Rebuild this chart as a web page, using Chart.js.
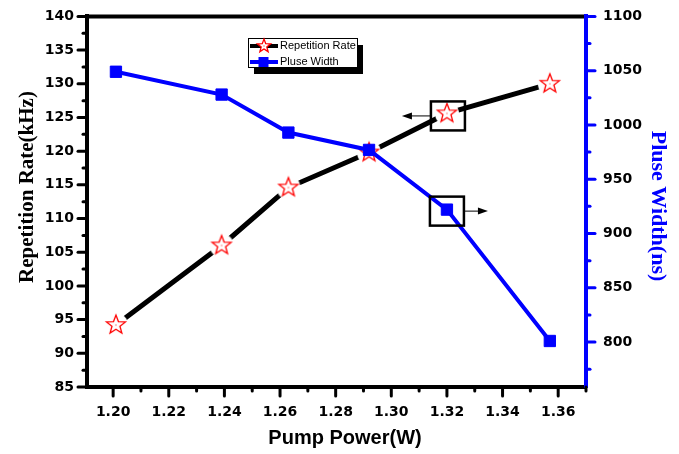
<!DOCTYPE html>
<html>
<head>
<meta charset="utf-8">
<script src="https://cdn.jsdelivr.net/npm/chart.js@4.4.0/dist/chart.umd.min.js"></script>
<style>
  html, body { margin: 0; padding: 0; background: #fff; }
  #one_chart { display: block; }
</style>
</head>
<body>
<canvas id="one_chart" width="679" height="454"></canvas>
<script>
// Data
const pumpPower = [1.201, 1.239, 1.263, 1.292, 1.320, 1.357];
const repRate = [94.2, 106.0, 114.6, 119.8, 125.6, 130.0];
const pulseWidth = [1049, 1028, 993, 977, 922, 801];

// Tick values
const xTicks = [1.20, 1.22, 1.24, 1.26, 1.28, 1.30, 1.32, 1.34, 1.36];
const xMinor = [1.21, 1.23, 1.25, 1.27, 1.29, 1.31, 1.33, 1.35, 1.37];
const rateTicks = [85, 90, 95, 100, 105, 110, 115, 120, 125, 130, 135, 140];
const rateMinor = [87.5, 92.5, 97.5, 102.5, 107.5, 112.5, 117.5, 122.5, 127.5, 132.5, 137.5];
const widthTicks = [800, 850, 900, 950, 1000, 1050, 1100];
const widthMinor = [775, 825, 875, 925, 975, 1025, 1075];

// the point that has a box and arrow on it
const markedPoint = 4;

const BLUE = "#0000ff";

// Open red star with a white halo so the line stops short of it
function makeStar(outer, halo) {
  const size = Math.ceil(Math.max(outer, halo) * 2 + 4);
  const c = document.createElement("canvas");
  c.width = c.height = size;
  const g = c.getContext("2d");
  const cx = size / 2, cy = size / 2;
  if (halo) {
    g.fillStyle = "#fff";
    g.beginPath();
    g.arc(cx, cy, halo, 0, Math.PI * 2);
    g.fill();
  }
  g.beginPath();
  for (let i = 0; i < 10; i++) {
    const r = i % 2 ? outer * 0.42 : outer;
    const a = -Math.PI / 2 + (i * Math.PI) / 5;
    g.lineTo(cx + r * Math.cos(a), cy + r * Math.sin(a));
  }
  g.closePath();
  g.fillStyle = "#fff";
  g.fill();
  g.strokeStyle = "#ff0000";
  g.lineWidth = 1.3;
  g.stroke();
  g.fillStyle = "#ff0000";
  g.fillRect(cx - 0.5, cy - 0.5, 1, 1);
  return c;
}

const starPoint = makeStar(10, 12);
const legendStar = makeStar(7, 0);

function arrow(ctx, x1, x2, y) {
  const dir = x2 > x1 ? 1 : -1;
  ctx.beginPath();
  ctx.moveTo(x1, y);
  ctx.lineTo(x2 - dir * 8, y);
  ctx.stroke();
  ctx.beginPath();
  ctx.moveTo(x2, y);
  ctx.lineTo(x2 - dir * 10, y - 3.5);
  ctx.lineTo(x2 - dir * 10, y + 3.5);
  ctx.closePath();
  ctx.fill();
}

function tickMarks(ctx, scale, values, len, side) {
  const area = scale.chart.chartArea;
  values.forEach((v) => {
    const p = scale.getPixelForValue(v);
    ctx.beginPath();
    if (side === "left") { ctx.moveTo(area.left, p); ctx.lineTo(area.left - len, p); }
    if (side === "right") { ctx.moveTo(area.right, p); ctx.lineTo(area.right + len, p); }
    if (side === "bottom") { ctx.moveTo(p, area.bottom); ctx.lineTo(p, area.bottom + len); }
    ctx.stroke();
  });
}

const decorations = {
  id: "decorations",
  afterDraw(chart) {
    const ctx = chart.ctx;
    const area = chart.chartArea;
    const sx = chart.scales.x, sy = chart.scales.y, sy1 = chart.scales.y1;
    ctx.save();

    // top frame line
    ctx.strokeStyle = "#000";
    ctx.lineWidth = 4;
    ctx.beginPath();
    ctx.moveTo(area.left - 2, area.top);
    ctx.lineTo(area.right - 2, area.top);
    ctx.stroke();

    // tick marks, major and minor, with round ends
    ctx.lineCap = "round";
    ctx.lineWidth = 3;
    ctx.strokeStyle = "#000";
    tickMarks(ctx, sy, rateTicks, 9, "left");
    tickMarks(ctx, sy, rateMinor, 4, "left");
    tickMarks(ctx, sx, xTicks, 9, "bottom");
    tickMarks(ctx, sx, xMinor, 4, "bottom");
    ctx.strokeStyle = BLUE;
    tickMarks(ctx, sy1, widthTicks, 9, "right");
    tickMarks(ctx, sy1, widthMinor, 4, "right");
    ctx.lineCap = "butt";

    // boxes and arrows on the marked points
    const px = sx.getPixelForValue(pumpPower[markedPoint]);
    const pyRate = sy.getPixelForValue(repRate[markedPoint]);
    const pyWidth = sy1.getPixelForValue(pulseWidth[markedPoint]);
    ctx.strokeStyle = "#000";
    ctx.fillStyle = "#000";
    ctx.lineWidth = 2.5;
    ctx.strokeRect(px - 16, pyRate - 12, 34, 29);
    ctx.strokeRect(px - 17, pyWidth - 13, 34, 29);
    ctx.lineWidth = 1;
    arrow(ctx, px - 16, px - 45, pyRate + 2.5);
    arrow(ctx, px + 17, px + 41, pyWidth + 1.5);

    // legend with drop shadow
    ctx.fillStyle = "#000";
    ctx.fillRect(254, 45, 109, 29);
    ctx.fillStyle = "#fff";
    ctx.fillRect(248.5, 38.5, 109, 29);
    ctx.lineWidth = 1;
    ctx.strokeRect(248.5, 38.5, 109, 29);
    ctx.lineWidth = 4;
    ctx.strokeStyle = "#000";
    ctx.beginPath(); ctx.moveTo(250, 46); ctx.lineTo(278, 46); ctx.stroke();
    ctx.drawImage(legendStar, 264 - legendStar.width / 2, 46 - legendStar.height / 2);
    ctx.strokeStyle = BLUE;
    ctx.beginPath(); ctx.moveTo(250, 62); ctx.lineTo(278, 62); ctx.stroke();
    ctx.fillStyle = BLUE;
    ctx.fillRect(258.5, 57, 10, 10);
    ctx.fillStyle = "#000";
    ctx.font = "11px 'Liberation Sans', Arial, sans-serif";
    ctx.textBaseline = "middle";
    ctx.textAlign = "left";
    ctx.fillText("Repetition Rate", 280, 46);
    ctx.fillText("Pluse Width", 280, 62);

    // axis titles
    ctx.textAlign = "center";
    ctx.font = "bold 20px 'Liberation Sans', Arial, sans-serif";
    ctx.fillText("Pump Power(W)", 345, 438);

    ctx.save();
    ctx.translate(28, 187);
    ctx.rotate(-Math.PI / 2);
    ctx.font = "bold 21px 'Liberation Serif', 'Times New Roman', serif";
    ctx.fillText("Repetition Rate(kHz)", 0, 0);
    ctx.restore();

    ctx.save();
    ctx.translate(658, 206);
    ctx.rotate(Math.PI / 2);
    ctx.fillStyle = BLUE;
    ctx.font = "bold 22px 'Liberation Serif', 'Times New Roman', serif";
    ctx.fillText("Pluse Width(ns)", 0, 0);
    ctx.restore();

    ctx.restore();
  },
};

const tickFont = { family: "'DejaVu Sans', sans-serif", size: 14, weight: "bold" };
const hiddenTicks = {
  display: true,
  drawOnChartArea: false,
  drawTicks: true,
  tickLength: 9,
  tickColor: "rgba(0,0,0,0)",
};

const config = {
  type: "line",
  data: {
    datasets: [
      {
        label: "Repetition Rate",
        data: pumpPower.map((x, i) => ({ x: x, y: repRate[i] })),
        yAxisID: "y",
        order: 1,
        borderColor: "#000",
        borderWidth: 5,
        tension: 0,
        pointStyle: starPoint,
        pointRadius: 10,
      },
      {
        label: "Pluse Width",
        data: pumpPower.map((x, i) => ({ x: x, y: pulseWidth[i] })),
        yAxisID: "y1",
        order: 0,
        borderColor: BLUE,
        borderWidth: 4,
        tension: 0,
        pointStyle: "rect",
        pointRadius: 8,
        pointBackgroundColor: BLUE,
        pointBorderColor: BLUE,
        pointBorderWidth: 1,
      },
    ],
  },
  options: {
    responsive: false,
    animation: false,
    devicePixelRatio: 1,
    layout: { padding: { top: 16, left: 0, right: 0, bottom: 0 } },
    plugins: {
      legend: { display: false },
      tooltip: { enabled: false },
    },
    scales: {
      x: {
        type: "linear",
        position: "bottom",
        min: 1.1906,
        max: 1.370,
        afterBuildTicks: (scale) => { scale.ticks = xTicks.map((v) => ({ value: v })); },
        afterFit: (scale) => { scale.height = 67; },
        grid: hiddenTicks,
        border: { display: true, color: "#000", width: 4 },
        ticks: {
          color: "#000",
          font: tickFont,
          padding: 8,
          autoSkip: false,
          maxRotation: 0,
          callback: (v) => v.toFixed(2),
        },
      },
      y: {
        type: "linear",
        position: "left",
        min: 85,
        max: 140,
        afterBuildTicks: (scale) => { scale.ticks = rateTicks.map((v) => ({ value: v })); },
        afterFit: (scale) => { scale.width = 87; },
        grid: hiddenTicks,
        border: { display: true, color: "#000", width: 4 },
        ticks: { color: "#000", font: tickFont, padding: 4, autoSkip: false, callback: (v) => String(v) },
      },
      y1: {
        type: "linear",
        position: "right",
        min: 758.6,
        max: 1100,
        afterBuildTicks: (scale) => { scale.ticks = widthTicks.map((v) => ({ value: v })); },
        afterFit: (scale) => { scale.width = 93; },
        grid: hiddenTicks,
        border: { display: true, color: BLUE, width: 4 },
        ticks: { color: "#000", font: tickFont, padding: 8, autoSkip: false, callback: (v) => String(v) },
      },
    },
  },
  plugins: [decorations],
};

const ctx = document.getElementById("one_chart").getContext("2d");
new Chart(ctx, config);
</script>
</body>
</html>
